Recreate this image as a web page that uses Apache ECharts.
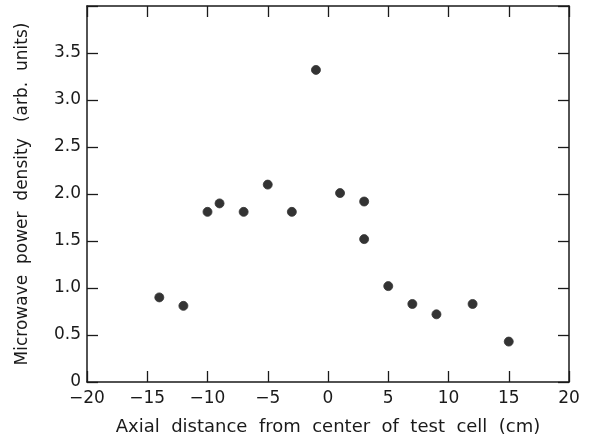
<!DOCTYPE html>
<html>
<head>
<meta charset="utf-8">
<script src="https://cdn.jsdelivr.net/npm/echarts@6/dist/echarts.min.js"></script>
<style>
  html, body { margin: 0; padding: 0; background: #fff; }
  #chart { width: 589px; height: 446px; }
</style>
</head>
<body>
<div id="chart"></div>
<script>
// axial position (cm) and microwave power density (arb. units)
var xPos = [-14, -12, -10, -9, -7, -5, -3, -1, 1, 3, 3, 5, 7, 9, 12, 15];
var power = [0.90, 0.81, 1.81, 1.90, 1.81, 2.10, 1.81, 3.32, 2.01, 1.92, 1.52, 1.02, 0.83, 0.72, 0.83, 0.43];

var xTicks = [-20, -15, -10, -5, 0, 5, 10, 15, 20];
var yTicks = [0, 0.5, 1.0, 1.5, 2.0, 2.5, 3.0, 3.5];

var ink = '#1a1a1a';
var font = '"DejaVu Sans", sans-serif';

var points = xPos.map(function (x, i) { return [x, power[i]]; });

var myChart = echarts.init(document.getElementById('chart'));

var tickStyle = { inside: true, length: 11, lineStyle: { color: ink, width: 1.3 } };
var lineStyle = { show: true, onZero: false, lineStyle: { color: ink, width: 1.5 } };

var option = {
    animation: false,
    backgroundColor: '#fff',
    grid: {
        left: 87,
        right: 20,
        top: 6,
        bottom: 64
    },
    xAxis: [
        {
            type: 'value',
            min: -20,
            max: 20,
            interval: 5,
            name: 'Axial  distance  from  center  of  test  cell  (cm)',
            nameLocation: 'middle',
            nameGap: 36,
            nameTextStyle: { color: ink, fontSize: 18, fontFamily: font },
            axisLine: lineStyle,
            axisTick: tickStyle,
            axisLabel: {
                color: ink, fontSize: 17, fontFamily: font, margin: 8,
                formatter: function (v) {
                    return xTicks.indexOf(v) >= 0 ? String(v).replace('-', '\u2212') : '';
                }
            },
            splitLine: { show: false }
        },
        {
            type: 'value',
            position: 'top',
            min: -20,
            max: 20,
            interval: 5,
            axisLine: lineStyle,
            axisTick: tickStyle,
            axisLabel: { show: false },
            splitLine: { show: false }
        }
    ],
    yAxis: [
        {
            type: 'value',
            min: 0,
            max: 4,
            interval: 0.5,
            name: 'Microwave  power  density   (arb.  units)',
            nameLocation: 'middle',
            nameGap: 56,
            nameTextStyle: { color: ink, fontSize: 17, fontFamily: font },
            axisLine: lineStyle,
            axisTick: tickStyle,
            axisLabel: {
                color: ink, fontSize: 17, fontFamily: font, margin: 6,
                formatter: function (v) {
                    if (yTicks.indexOf(v) < 0) return '';
                    return v === 0 ? '0' : v.toFixed(1);
                }
            },
            splitLine: { show: false }
        },
        {
            type: 'value',
            position: 'right',
            min: 0,
            max: 4,
            interval: 0.5,
            axisLine: lineStyle,
            axisTick: tickStyle,
            axisLabel: { show: false },
            splitLine: { show: false }
        }
    ],
    series: [
        {
            type: 'scatter',
            data: points,
            symbol: 'circle',
            symbolSize: 9,
            itemStyle: {
                color: '#000',
                borderColor: '#333',
                borderWidth: 1
            }
        }
    ]
};

myChart.setOption(option);
</script>
</body>
</html>
